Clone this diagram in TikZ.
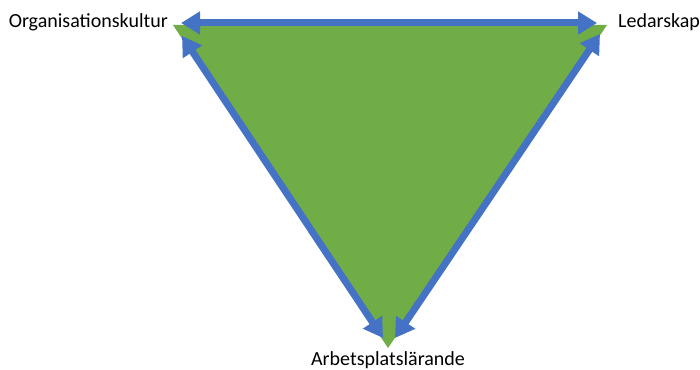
\documentclass[tikz,border=0pt]{standalone}
\usepackage{fontspec}
\setmainfont{Carlito}
\usetikzlibrary{arrows.meta}

\definecolor{ytgron}{HTML}{70AD47}
\definecolor{pilbla}{HTML}{4472C4}

\tikzset{
  etikett/.style={font=\fontsize{20}{24}\selectfont, inner sep=0pt},
  dubbelpil/.style={pilbla, line width=7pt,
    {Triangle[width=22pt,length=19pt]}-{Triangle[width=22pt,length=19pt]}},
}

\begin{document}
\begin{tikzpicture}[x=1pt, y=-1pt]
  \useasboundingbox (0,0) rectangle (700,369);

  % hörn av triangeln
  \coordinate (VL) at (173,25);
  \coordinate (VR) at (607,25);
  \coordinate (VB) at (388,348);

  \fill[ytgron] (VL) -- (VR) -- (VB) -- cycle;

  % pilarnas ändpunkter
  \coordinate (topL) at (181,23);
  \coordinate (topR) at (597,23);
  \coordinate (vanUpp) at (182,36);
  \coordinate (vanNer) at (383,338);
  \coordinate (hogUpp) at (600,34);
  \coordinate (hogNer) at (395,338);

  \draw[dubbelpil] (topL) -- (topR);
  \draw[dubbelpil] (vanUpp) -- (vanNer);
  \draw[dubbelpil] (hogUpp) -- (hogNer);

  \node[etikett, anchor=east] (kultur) at (168,22) {Organisationskultur};
  \node[etikett, anchor=west] (ledare) at (618,22) {Ledarskap};
  \node[etikett, anchor=north] (larande) at (388,351) {Arbetsplatslärande};
\end{tikzpicture}
\end{document}
